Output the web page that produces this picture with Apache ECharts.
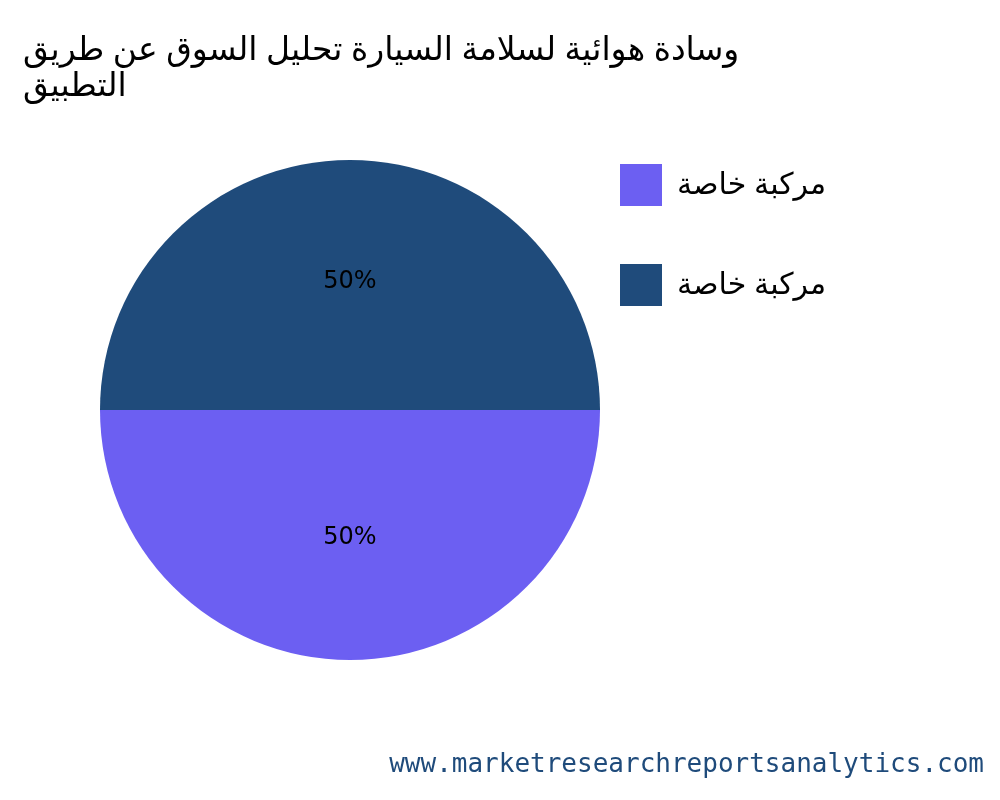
<!DOCTYPE html>
<html>
<head>
<meta charset="utf-8">
<script src="https://cdn.jsdelivr.net/npm/echarts@6/dist/echarts.min.js"></script>
<style>html,body{margin:0;background:#fff}#main{width:1000px;height:800px}</style>
</head>
<body>
<div id="main"></div>
<script>
var titleText = 'وسادة هوائية لسلامة السيارة تحليل السوق عن طريق\nالتطبيق';
var names = ['مركبة خاصة', 'مركبة خاصة\u200f'];
var values = [50, 50];
var labels = ['50%', '50%'];
var colors = ['#6c5ff2', '#1f4b7b'];
var footer = 'www.marketresearchreportsanalytics.com';

var chart = echarts.init(document.getElementById('main'));
chart.setOption({
  title: {
    text: titleText, left: 18, top: 28,
    textStyle: {fontFamily: 'Noto Sans, DejaVu Sans', fontSize: 33, fontWeight: 'normal', color: '#000', lineHeight: 36}
  },
  legend: {
    orient: 'vertical', left: 615, top: 159, itemWidth: 42, itemHeight: 42, itemGap: 58,
    data: names,
    textStyle: {fontFamily: 'Noto Sans, DejaVu Sans', fontSize: 30, color: '#000', padding: [0, 0, 0, 10]},
    icon: 'rect'
  },
  graphic: [{
    type: 'text', right: 16, top: 752,
    style: {text: footer, fontFamily: 'DejaVu Sans Mono', fontSize: 26, fill: '#1f4b7b'}
  }],
  series: [{
    type: 'pie', center: [350, 410], radius: 250, startAngle: 0,
    data: names.map(function (n, i) {
      return {name: n, value: values[i], itemStyle: {color: colors[i]},
        label: {formatter: labels[i]}};
    }),
    label: {position: 'inside', fontFamily: 'DejaVu Sans', fontSize: 24, color: '#000'},
    labelLine: {show: false},
    emphasis: {disabled: true}
  }]
});
</script>
</body>
</html>
